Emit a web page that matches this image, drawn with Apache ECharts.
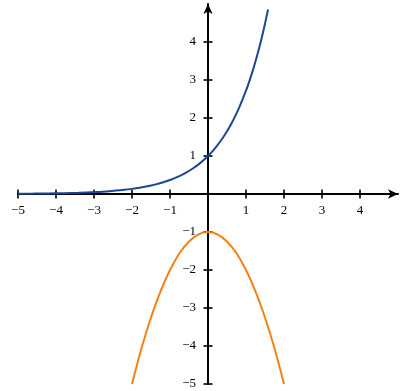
<!DOCTYPE html>
<html>
<head>
<meta charset="utf-8">
<script src="https://cdn.jsdelivr.net/npm/echarts@6/dist/echarts.min.js"></script>
<style>html,body{margin:0;padding:0;background:#fff}#c{width:409px;height:391px}</style>
</head>
<body>
<div id="c"></div>
<script>
// x tick labels and y tick labels (0 omitted)
var xTicks = [-5, -4, -3, -2, -1, 1, 2, 3, 4];
var yTicks = [-5, -4, -3, -2, -1, 1, 2, 3, 4];

// blue curve points
var blueX = [-5, -4.6, -4.2, -3.8, -3.4, -3.0, -2.6, -2.2, -2.0, -1.8, -1.6, -1.4, -1.2, -1.0, -0.8, -0.6, -0.4, -0.2, 0, 0.2, 0.4, 0.6, 0.8, 1.0, 1.1, 1.2, 1.3, 1.4, 1.5, 1.58];
var blueY = [0.007, 0.010, 0.015, 0.022, 0.033, 0.050, 0.074, 0.111, 0.135, 0.165, 0.202, 0.247, 0.301, 0.368, 0.449, 0.549, 0.670, 0.819, 1.0, 1.221, 1.492, 1.822, 2.226, 2.718, 3.004, 3.320, 3.669, 4.055, 4.482, 4.855];

// orange curve points
var orangeX = [-2, -1.75, -1.5, -1.25, -1, -0.75, -0.5, -0.25, 0, 0.25, 0.5, 0.75, 1, 1.25, 1.5, 1.75, 2];
var orangeY = [-5, -4.06, -3.25, -2.56, -2, -1.56, -1.25, -1.06, -1, -1.06, -1.25, -1.56, -2, -2.56, -3.25, -4.06, -5];

function zip(a, b) { return a.map(function (v, i) { return [v, b[i]]; }); }
function fmt(v) { return String(v).replace('-', '\u2212'); }

var W = 409, H = 391, L = 18, R = 11, T = 4, B = 7;
var chart = echarts.init(document.getElementById('c'), null, {renderer: 'canvas'});
var labelFont = {fontFamily: 'Liberation Serif', fontSize: 13, color: '#000'};
chart.setOption({
  animation: false,
  grid: {left: L, right: R, top: T, bottom: B, containLabel: false, outerBoundsMode: 'none'},
  xAxis: {
    type: 'value', min: -5, max: 5, position: 'bottom',
    offset: -(H - T - B) / 2,
    splitLine: {show: false},
    axisTick: {show: false},
    axisLine: {onZero: false, lineStyle: {color: '#000', width: 2}, symbol: ['none', 'arrow'], symbolSize: [7, 10]},
    axisLabel: Object.assign({customValues: xTicks, margin: 10, formatter: fmt}, labelFont)
  },
  yAxis: {
    type: 'value', min: -5, max: 5, position: 'left',
    offset: -(W - L - R) / 2,
    splitLine: {show: false},
    axisTick: {show: false},
    axisLine: {onZero: false, lineStyle: {color: '#000', width: 2}, symbol: ['none', 'arrow'], symbolSize: [7, 10]},
    axisLabel: Object.assign({customValues: yTicks, margin: 12, formatter: fmt}, labelFont)
  },
  series: [
    {
      type: 'scatter', z: 1, silent: true,
      symbol: 'rect', symbolSize: [2, 9],
      itemStyle: {color: '#000'},
      data: xTicks.map(function (v) { return [v, 0]; })
    },
    {
      type: 'scatter', z: 1, silent: true,
      symbol: 'rect', symbolSize: [9, 2],
      itemStyle: {color: '#000'},
      data: yTicks.map(function (v) { return [0, v]; })
    },
    {
      type: 'line', z: 3, showSymbol: false, smooth: 0.3,
      lineStyle: {color: '#1c4697', width: 2},
      data: zip(blueX, blueY)
    },
    {
      type: 'line', z: 3, showSymbol: false, smooth: 0.3,
      lineStyle: {color: '#f57f12', width: 2},
      data: zip(orangeX, orangeY)
    }
  ]
});
</script>
</body>
</html>
